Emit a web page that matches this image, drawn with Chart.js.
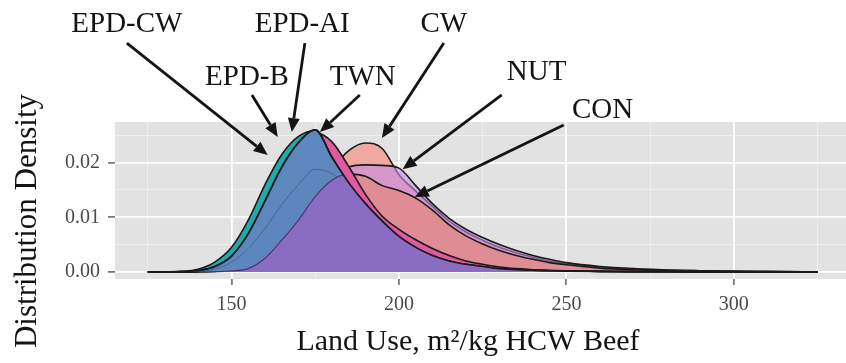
<!DOCTYPE html>
<html>
<head>
<meta charset="utf-8">
<title>Land use density</title>
<script src="https://cdn.jsdelivr.net/npm/chart.js@4.4.1/dist/chart.umd.min.js"></script>
<style>
  html, body { margin: 0; padding: 0; background: #fff; }
  #wrap { width: 846px; height: 363px; }
</style>
</head>
<body>
<div id="wrap"><canvas id="canvas" width="846" height="363"></canvas></div>
<script>
// land use values (m2/kg HCW beef) where every density is sampled
var landUse = [125, 130, 135, 140, 145, 150, 155, 160, 165, 170, 175, 180, 185, 190, 195, 200, 205,
               210, 215, 220, 225, 230, 235, 240, 245, 250, 260, 270, 280, 290, 300, 310, 325];

// distribution density per scenario
var densityEpdCw = [0, 0.00002, 0.0001, 0.0005, 0.0018, 0.0045, 0.0095, 0.0160, 0.0215, 0.0248, 0.0259, 0.0205, 0.0158, 0.0120, 0.0089, 0.0062, 0.0043,
                    0.0029, 0.0019, 0.0013, 0.0009, 0.00055, 0.00038, 0.00028, 0.00019, 0.00014, 0.00008, 0.00004, 0.00002, 0, 0, 0, 0];
var densityEpdB  = [0, 0, 0.00005, 0.00025, 0.0010, 0.0029, 0.0070, 0.0130, 0.0192, 0.0237, 0.0260, 0.0210, 0.0163, 0.0125, 0.0093, 0.0065, 0.0045,
                    0.0030, 0.0020, 0.0014, 0.0010, 0.0006, 0.0004, 0.0003, 0.0002, 0.00015, 0.0001, 0.00005, 0.00002, 0.00001, 0, 0, 0];
var densityEpdAi = [0, 0, 0.00002, 0.0001, 0.0005, 0.0018, 0.0043, 0.0080, 0.0123, 0.0160, 0.0188, 0.0180, 0.0153, 0.0118, 0.0088, 0.0060, 0.0041,
                    0.0027, 0.0018, 0.0012, 0.0008, 0.0005, 0.00035, 0.00025, 0.00018, 0.00012, 0.00006, 0.00003, 0.00001, 0, 0, 0, 0];
var densityTwn   = [0, 0, 0, 0.0001, 0.0006, 0.0020, 0.0055, 0.0110, 0.0175, 0.0225, 0.0255, 0.0238, 0.0193, 0.0142, 0.0102, 0.0078, 0.0059,
                    0.0043, 0.0030, 0.0020, 0.0014, 0.0009, 0.0006, 0.0004, 0.0003, 0.0002, 0.0001, 0.00005, 0.00002, 0.00001, 0, 0, 0];
var densityCw    = [0, 0, 0, 0.0001, 0.0003, 0.0008, 0.0020, 0.0040, 0.0070, 0.0105, 0.0145, 0.0188, 0.0222, 0.0236, 0.0226, 0.0178, 0.0148,
                    0.0120, 0.0093, 0.0073, 0.0058, 0.0045, 0.0035, 0.0027, 0.0020, 0.0015, 0.0009, 0.0005, 0.0003, 0.0002, 0.0001, 0.00005, 0];
var densityNut   = [0, 0, 0, 0.00005, 0.0002, 0.0006, 0.0015, 0.0032, 0.0058, 0.0092, 0.0132, 0.0168, 0.0192, 0.0196, 0.0195, 0.0190, 0.0158,
                    0.0125, 0.0098, 0.0078, 0.0063, 0.0050, 0.0039, 0.0030, 0.0023, 0.0017, 0.0010, 0.0006, 0.00035, 0.00022, 0.00013, 0.00007, 0.00002];
var densityCon   = [0, 0, 0, 0, 0.00005, 0.0002, 0.0006, 0.0025, 0.0058, 0.0095, 0.0138, 0.0168, 0.0179, 0.0175, 0.0158, 0.0149, 0.0135,
                    0.0113, 0.0086, 0.0066, 0.0051, 0.0039, 0.0030, 0.0023, 0.0017, 0.0013, 0.0007, 0.0004, 0.00025, 0.00015, 0.0001, 0.00005, 0];

// axis ticks (minor ones get a grid line but no label)
var xTicks = [125, 150, 175, 200, 225, 250, 275, 300, 325];
var xMajorTicks = [150, 200, 250, 300];
var yTicks = [0, 0.005, 0.01, 0.015, 0.02, 0.025];
var yMajorTicks = [0, 0.01, 0.02];

// callout labels with arrows, in axis units
var callouts = [
  { text: 'EPD-CW', label: [118.75, 0.0454], tail: [118.75, 0.0419], tip: [160.8, 0.0214] },
  { text: 'EPD-B',  label: [154.6, 0.0357],  tail: [156.1, 0.0324],  tip: [163.8, 0.0247] },
  { text: 'EPD-AI', label: [171.1, 0.0454],  tail: [171.9, 0.0419],  tip: [168.0, 0.0256] },
  { text: 'TWN',    label: [189.2, 0.0357],  tail: [188.3, 0.0324],  tip: [176.4, 0.0256] },
  { text: 'CW',     label: [213.4, 0.0454],  tail: [213.4, 0.0419],  tip: [194.9, 0.0245] },
  { text: 'NUT',    label: [241.1, 0.0366],  tail: [230.7, 0.0324],  tip: [201.1, 0.0188] },
  { text: 'CON',    label: [260.8, 0.0295],  tail: [249.2, 0.0269],  tip: [204.7, 0.0137] }
];

var serif = '"Liberation Serif", "Times New Roman", serif';

function isIn(list, v) {
    for (var i = 0; i < list.length; i++) {
        if (Math.abs(list[i] - v) < 1e-9) return true;
    }
    return false;
}

function series(values) {
    var pts = [];
    for (var i = 0; i < landUse.length; i++) {
        pts.push({ x: landUse[i], y: values[i] });
    }
    return pts;
}

// closed area under a drawn density line
function areaPath(ctx, meta, yBase) {
    var pts = meta.data;
    ctx.beginPath();
    meta.dataset.path(ctx);
    ctx.lineTo(pts[pts.length - 1].x, yBase);
    ctx.lineTo(pts[0].x, yBase);
    ctx.closePath();
}

var panelBackground = {
    id: 'panelBackground',
    beforeDraw: function(chart) {
        var a = chart.chartArea, ctx = chart.ctx;
        ctx.save();
        ctx.fillStyle = '#e2e2e2';
        ctx.fillRect(a.left, a.top, a.right - a.left, a.bottom - a.top);
        ctx.restore();
    }
};

// where the EPD and CON curves overlap the blend turns purple
var overlapShade = {
    id: 'overlapShade',
    afterDatasetsDraw: function(chart) {
        var ctx = chart.ctx, a = chart.chartArea;
        var yZero = chart.scales.y.getPixelForValue(0);
        var blue = chart.getDatasetMeta(1), con = chart.getDatasetMeta(6);

        ctx.save();
        ctx.beginPath();
        ctx.rect(a.left, a.top, a.right - a.left, yZero - 1 - a.top);
        ctx.clip();
        areaPath(ctx, con, yZero);
        ctx.clip();
        areaPath(ctx, blue, yZero);
        ctx.fillStyle = '#8a6dc3';
        ctx.fill();
        ctx.restore();

        ctx.save();
        ctx.beginPath();
        ctx.rect(a.left, a.top, a.right - a.left, a.bottom - a.top);
        ctx.clip();
        areaPath(ctx, blue, yZero);
        ctx.clip();
        ctx.beginPath();
        con.dataset.path(ctx);
        ctx.strokeStyle = 'rgba(80,30,90,0.8)';
        ctx.lineWidth = 1.2;
        ctx.stroke();
        ctx.restore();

        ctx.save();
        ctx.beginPath();
        blue.dataset.path(ctx);
        ctx.strokeStyle = '#1a1a1a';
        ctx.lineWidth = 1.6;
        ctx.stroke();
        ctx.restore();
    }
};

function drawArrow(ctx, x0, y0, x1, y1) {
    var ang = Math.atan2(y1 - y0, x1 - x0);
    var headLen = 14, headHalf = 6;
    var bx = x1 - headLen * Math.cos(ang), by = y1 - headLen * Math.sin(ang);
    ctx.beginPath();
    ctx.moveTo(x0, y0);
    ctx.lineTo(bx, by);
    ctx.stroke();
    ctx.beginPath();
    ctx.moveTo(x1, y1);
    ctx.lineTo(bx + headHalf * Math.sin(ang), by - headHalf * Math.cos(ang));
    ctx.lineTo(bx - headHalf * Math.sin(ang), by + headHalf * Math.cos(ang));
    ctx.closePath();
    ctx.fill();
}

var annotations = {
    id: 'annotations',
    afterDraw: function(chart) {
        var ctx = chart.ctx, xs = chart.scales.x, ys = chart.scales.y;
        ctx.save();
        ctx.fillStyle = '#141414';
        ctx.strokeStyle = '#141414';
        ctx.lineWidth = 2.8;
        ctx.textAlign = 'center';
        ctx.textBaseline = 'middle';
        ctx.font = '29px ' + serif;
        callouts.forEach(function(c) {
            ctx.fillText(c.text, xs.getPixelForValue(c.label[0]), ys.getPixelForValue(c.label[1]));
            drawArrow(ctx,
                xs.getPixelForValue(c.tail[0]), ys.getPixelForValue(c.tail[1]),
                xs.getPixelForValue(c.tip[0]), ys.getPixelForValue(c.tip[1]));
        });

        // axis titles
        ctx.font = '30px ' + serif;
        ctx.fillText('Land Use, m\u00B2/kg HCW Beef', 468, 342);
        ctx.translate(28, 221);
        ctx.rotate(-Math.PI / 2);
        ctx.font = '31px ' + serif;
        ctx.fillText('Distribution Density', 0, 0);
        ctx.restore();
    }
};

function dataset(label, values, fill, order) {
    return {
        label: label,
        data: series(values),
        backgroundColor: fill,
        borderColor: '#1a1a1a',
        borderWidth: 1.6,
        fill: 'origin',
        order: order,
        pointRadius: 0,
        cubicInterpolationMode: 'monotone'
    };
}

var datasets = [
    dataset('EPD-CW', densityEpdCw, '#22a9ad', 3),
    dataset('EPD-B', densityEpdB, '#5d88bd', 2),
    dataset('EPD-AI', densityEpdAi, 'rgba(93,136,189,0.15)', 1),
    dataset('TWN', densityTwn, '#df5aa0', 4),
    dataset('CW', densityCw, '#efa9a1', 7),
    dataset('NUT', densityNut, 'rgba(200,140,232,0.6)', 6),
    dataset('CON', densityCon, '#df8c95', 5)
];
datasets[2].borderColor = 'rgba(40,60,100,0.45)';
datasets[2].borderWidth = 1;

var gridColor = function(major) {
    return function(ctx) { return isIn(major, ctx.tick.value) ? '#ffffff' : '#f1f1f1'; };
};
var gridWidth = function(major) {
    return function(ctx) { return isIn(major, ctx.tick.value) ? 1.8 : 0.9; };
};
var tickColor = function(major) {
    return function(ctx) { return isIn(major, ctx.tick.value) ? '#555555' : 'rgba(0,0,0,0)'; };
};

new Chart(document.getElementById('canvas').getContext('2d'), {
    type: 'line',
    data: { datasets: datasets },
    options: {
        responsive: false,
        devicePixelRatio: 1,
        animation: false,
        events: [],
        layout: { padding: { top: 122, right: 0, bottom: 0, left: 0 } },
        plugins: {
            legend: { display: false },
            tooltip: { enabled: false },
            filler: { propagate: false }
        },
        scales: {
            x: {
                type: 'linear',
                min: 115.2,
                max: 333.5,
                afterBuildTicks: function(s) { s.ticks = xTicks.map(function(v) { return { value: v }; }); },
                afterFit: function(s) { s.height = 84; },
                border: { display: false },
                grid: { color: gridColor(xMajorTicks), lineWidth: gridWidth(xMajorTicks),
                        tickColor: tickColor(xMajorTicks), tickLength: 6, tickWidth: 1.4 },
                ticks: {
                    autoSkip: false, maxRotation: 0, padding: 8, color: '#4a4a4a',
                    font: { family: serif, size: 20 },
                    callback: function(v) { return isIn(xMajorTicks, v) ? String(v) : ''; }
                }
            },
            y: {
                type: 'linear',
                min: -0.0013,
                max: 0.02745,
                afterBuildTicks: function(s) { s.ticks = yTicks.map(function(v) { return { value: v }; }); },
                afterFit: function(s) { s.width = 115; },
                border: { display: false },
                grid: { color: gridColor(yMajorTicks), lineWidth: gridWidth(yMajorTicks),
                        tickColor: tickColor(yMajorTicks), tickLength: 7, tickWidth: 1.4 },
                ticks: {
                    autoSkip: false, padding: 8, color: '#4a4a4a',
                    font: { family: serif, size: 20 },
                    callback: function(v) { return isIn(yMajorTicks, v) ? v.toFixed(2) : ''; }
                }
            }
        }
    },
    plugins: [panelBackground, overlapShade, annotations]
});
</script>
</body>
</html>
